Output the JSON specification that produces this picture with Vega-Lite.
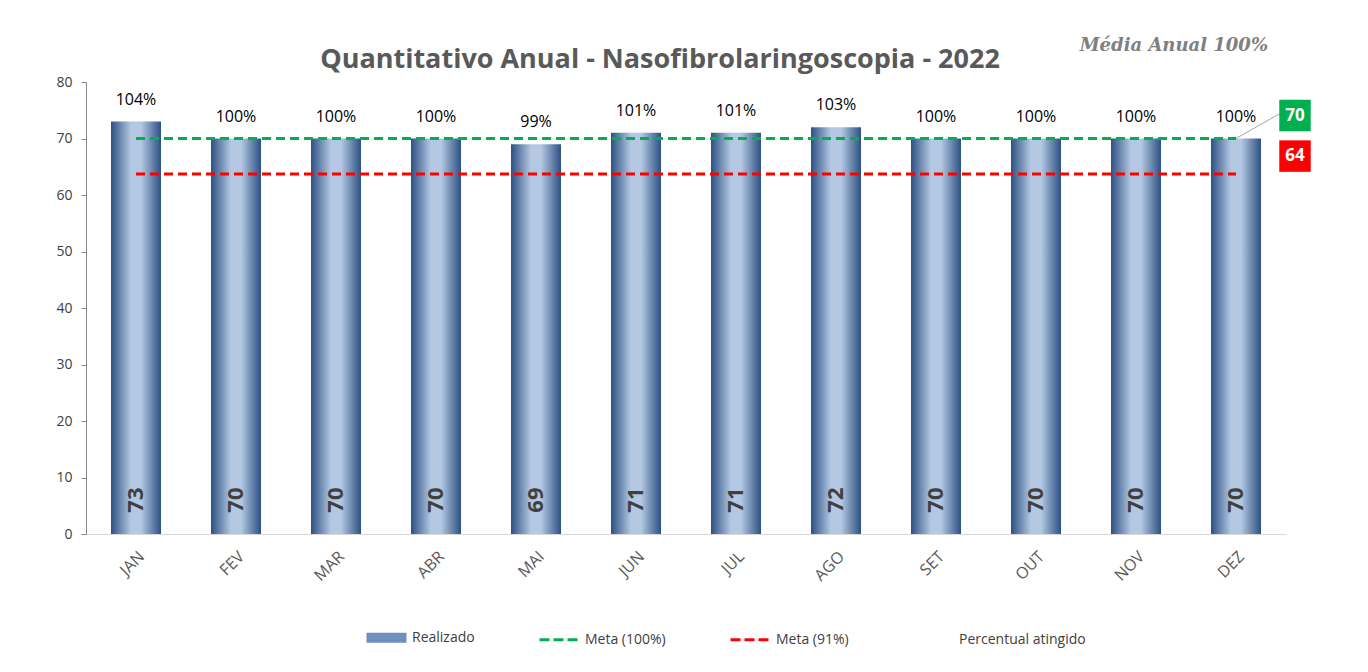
{
  "$schema": "https://vega.github.io/schema/vega-lite/v6.json",
  "width": 1200,
  "height": 452,
  "autosize": {"type": "none"},
  "padding": {"left": 86, "top": 82, "right": 82, "bottom": 138},
  "background": "white",
  "config": {
    "view": {"stroke": null},
    "font": "Open Sans",
    "legend": {
      "title": null,
      "orient": "none",
      "direction": "horizontal",
      "legendX": 279,
      "legendY": 534,
      "padding": 0,
      "columnPadding": 58,
      "symbolSize": 1600,
      "symbolStrokeWidth": 3,
      "symbolOpacity": 1,
      "symbolFillColor": "#6f8fbd",
      "labelFont": "Open Sans",
      "labelFontSize": 14,
      "labelColor": "#404040",
      "labelOffset": 4
    }
  },
  "title": {
    "text": "Quantitativo Anual - Nasofibrolaringoscopia - 2022",
    "font": "Open Sans",
    "fontSize": 27,
    "fontWeight": "bold",
    "color": "#595959",
    "anchor": "middle",
    "dx": -26,
    "dy": 41,
    "offset": 4
  },
  "data": {
    "values": [
      {"mes": "JAN", "realizado": 73, "pct": 1.04},
      {"mes": "FEV", "realizado": 70, "pct": 1.00},
      {"mes": "MAR", "realizado": 70, "pct": 1.00},
      {"mes": "ABR", "realizado": 70, "pct": 1.00},
      {"mes": "MAI", "realizado": 69, "pct": 0.99},
      {"mes": "JUN", "realizado": 71, "pct": 1.01},
      {"mes": "JUL", "realizado": 71, "pct": 1.01},
      {"mes": "AGO", "realizado": 72, "pct": 1.03},
      {"mes": "SET", "realizado": 70, "pct": 1.00},
      {"mes": "OUT", "realizado": 70, "pct": 1.00},
      {"mes": "NOV", "realizado": 70, "pct": 1.00},
      {"mes": "DEZ", "realizado": 70, "pct": 1.00}
    ]
  },
  "encoding": {
    "x": {
      "field": "mes",
      "type": "nominal",
      "sort": null,
      "scale": {"paddingInner": 0.5, "paddingOuter": 0.25},
      "axis": {
        "title": null,
        "labelAngle": -45,
        "labelFontSize": 16,
        "labelColor": "#595959",
        "ticks": false,
        "domainColor": "#d9d9d9",
        "labelPadding": 14
      }
    }
  },
  "layer": [
    {
      "mark": {
        "type": "bar",
        "color": {
          "gradient": "linear",
          "x1": 0, "x2": 1, "y1": 0, "y2": 0,
          "stops": [
            {"offset": 0, "color": "#2d5083"},
            {"offset": 0.4, "color": "#b4c8e3"},
            {"offset": 0.6, "color": "#b4c8e3"},
            {"offset": 1, "color": "#2d5083"}
          ]
        }
      },
      "encoding": {
        "y": {
          "field": "realizado",
          "type": "quantitative",
          "scale": {"domain": [0, 80]},
          "axis": {
            "title": null,
            "grid": false,
            "values": [0, 10, 20, 30, 40, 50, 60, 70, 80],
            "labelFontSize": 14,
            "labelColor": "#404040",
            "domainColor": "#868686",
            "tickColor": "#868686",
            "tickSize": 5,
            "labelPadding": 9
          }
        }
      }
    },
    {
      "mark": {"type": "text", "fontSize": 16, "color": "#000000", "dy": -22, "baseline": "middle"},
      "encoding": {
        "y": {"field": "realizado", "type": "quantitative"},
        "text": {"field": "pct", "type": "quantitative", "format": ".0%"}
      }
    },
    {
      "mark": {"type": "text", "fontSize": 22, "fontWeight": "bold", "color": "#404040", "angle": 270, "baseline": "middle", "align": "center"},
      "encoding": {
        "y": {"datum": 6},
        "text": {"field": "realizado", "type": "quantitative"}
      }
    },
    {
      "data": {"values": [{"meta": 70}]},
      "mark": {"type": "rule", "color": "#00b050", "strokeWidth": 3, "strokeDash": [9, 5]},
      "encoding": {
        "x": {"datum": "JAN"},
        "x2": {"datum": "DEZ"},
        "y": {"field": "meta", "type": "quantitative"}
      }
    },
    {
      "data": {"values": [{"meta": 63.7}]},
      "mark": {"type": "rule", "color": "#ff0000", "strokeWidth": 3, "strokeDash": [9, 5]},
      "encoding": {
        "x": {"datum": "JAN"},
        "x2": {"datum": "DEZ"},
        "y": {"field": "meta", "type": "quantitative"}
      }
    },
    {
      "data": {"values": [{"meta": 70}]},
      "mark": {"type": "rule", "color": "#a6a6a6", "strokeWidth": 1, "x2Offset": 44, "y2Offset": -25},
      "encoding": {
        "x": {"datum": "DEZ"},
        "x2": {"datum": "DEZ"},
        "y": {"field": "meta", "type": "quantitative"},
        "y2": {"field": "meta"}
      }
    },
    {
      "data": {"values": [{"meta": 70, "rotulo": "70"}]},
      "mark": {"type": "point", "shape": "square", "size": 990, "filled": true, "opacity": 1, "color": "#00b050", "xOffset": 59, "yOffset": -23},
      "encoding": {
        "x": {"datum": "DEZ"},
        "y": {"field": "meta", "type": "quantitative"}
      }
    },
    {
      "data": {"values": [{"meta": 63.7, "rotulo": "64"}]},
      "mark": {"type": "point", "shape": "square", "size": 990, "filled": true, "opacity": 1, "color": "#ff0000", "xOffset": 59, "yOffset": -18},
      "encoding": {
        "x": {"datum": "DEZ"},
        "y": {"field": "meta", "type": "quantitative"}
      }
    },
    {
      "data": {"values": [{"meta": 70, "rotulo": "70"}]},
      "mark": {"type": "text", "fontSize": 17, "fontWeight": "bold", "color": "white", "dx": 59, "dy": -23, "baseline": "middle", "align": "center"},
      "encoding": {
        "x": {"datum": "DEZ"},
        "y": {"field": "meta", "type": "quantitative"},
        "text": {"field": "rotulo"}
      }
    },
    {
      "data": {"values": [{"meta": 63.7, "rotulo": "64"}]},
      "mark": {"type": "text", "fontSize": 17, "fontWeight": "bold", "color": "white", "dx": 59, "dy": -18, "baseline": "middle", "align": "center"},
      "encoding": {
        "x": {"datum": "DEZ"},
        "y": {"field": "meta", "type": "quantitative"},
        "text": {"field": "rotulo"}
      }
    },
    {
      "data": {"values": [{"topo": 80, "rotulo": "Média Anual 100%"}]},
      "mark": {"type": "text", "font": "DejaVu Serif", "fontSize": 18, "fontStyle": "italic", "fontWeight": "bold", "color": "#808080", "dx": 32, "dy": -36, "baseline": "middle", "align": "right"},
      "encoding": {
        "x": {"datum": "DEZ"},
        "y": {"field": "topo", "type": "quantitative"},
        "text": {"field": "rotulo"}
      }
    },
    {
      "data": {"values": [
        {"serie": "Realizado"},
        {"serie": "Meta (100%)"},
        {"serie": "Meta (91%)"},
        {"serie": "Percentual atingido"}
      ]},
      "mark": {"type": "point", "opacity": 0, "filled": true},
      "encoding": {
        "x": {"datum": "JAN"},
        "y": {"datum": 0},
        "fill": {
          "field": "serie",
          "type": "nominal",
          "scale": {
            "domain": ["Realizado", "Meta (100%)", "Meta (91%)", "Percentual atingido"],
            "range": ["#6f8fbd", "transparent", "transparent", "transparent"]
          }
        },
        "stroke": {
          "field": "serie",
          "type": "nominal",
          "scale": {
            "domain": ["Realizado", "Meta (100%)", "Meta (91%)", "Percentual atingido"],
            "range": ["transparent", "#00b050", "#ff0000", "transparent"]
          }
        },
        "shape": {
          "field": "serie",
          "type": "nominal",
          "scale": {
            "domain": ["Realizado", "Meta (100%)", "Meta (91%)", "Percentual atingido"],
            "range": ["M-1,-0.25H1V0.25H-1Z", "stroke", "stroke", "stroke"]
          }
        },
        "strokeDash": {
          "field": "serie",
          "type": "nominal",
          "scale": {
            "domain": ["Realizado", "Meta (100%)", "Meta (91%)", "Percentual atingido"],
            "range": [[1, 0], [10, 4], [10, 4], [1, 0]]
          }
        }
      }
    }
  ]
}
